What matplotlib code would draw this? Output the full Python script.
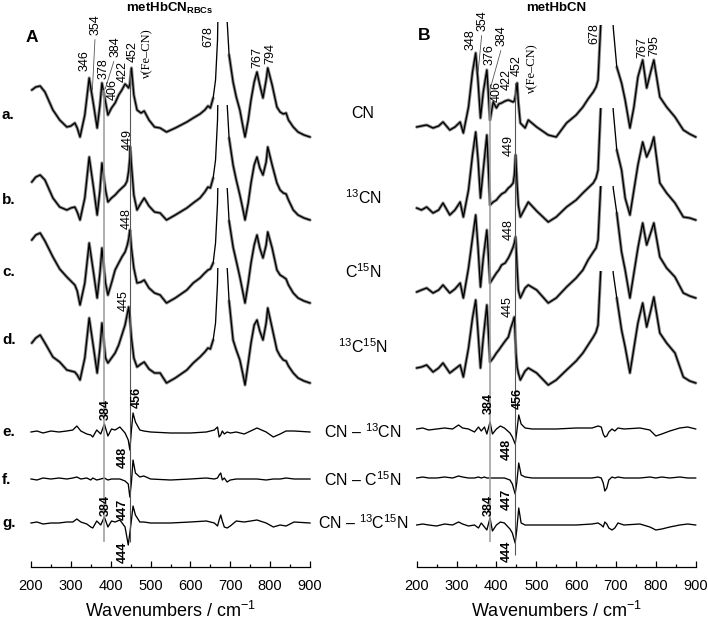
import numpy as np
import matplotlib.pyplot as plt
from matplotlib.patches import Rectangle
from matplotlib.ticker import MultipleLocator

plt.rcParams['font.family'] = ['Liberation Sans', 'DejaVu Sans']
plt.rcParams['mathtext.fontset'] = 'custom'
plt.rcParams['mathtext.rm'] = 'Liberation Sans'
plt.rcParams['mathtext.bf'] = 'Liberation Sans:bold'
plt.rcParams['mathtext.it'] = 'Liberation Sans:italic'

# ---- data (intensities, arbitrary units) ----
wn_A = [202, 212, 223, 235, 255, 272, 290, 300, 310, 316,
        323, 335, 346, 357, 366, 373, 378, 387, 393, 402,
        411, 420, 428, 436, 441, 445, 448, 449, 452, 458,
        466, 476, 484, 496, 510, 524, 540, 562, 591, 607,
        624, 636, 644, 650, 657, 663, 668, 672, 678, 686,
        692, 697, 707, 715, 724, 731, 737, 745, 752, 760,
        767, 774, 782, 790, 794, 805, 817, 825, 833, 840,
        846, 858, 870, 885, 900]
A_CN = [47, 50, 51, 45, 27, 17, 10, 11, 14, 9,
        0, 22, 59, 32, 9, 32, 54, 35, 22, 29,
        34, 42, 47, 53, 51, 49, 53, 57, 69, 42,
        27, 24, 26, 17, 10, 9, 5, 9, 15, 19,
        23, 27, 31, 29, 39, 57, 97, 197, 387, 197,
        117, 82, 55, 40, 27, 12, 0, 17, 37, 55,
        65, 52, 39, 57, 69, 52, 30, 25, 23, 24,
        17, 10, 5, 2, 0]
A_13CN = [38, 43, 45, 40, 22, 13, 10, 12, 13, 8,
          0, 22, 63, 32, 5, 30, 57, 30, 18, 22,
          25, 29, 32, 35, 39, 49, 62, 73, 55, 25,
          10, 17, 22, 14, 8, 7, 0, 5, 12, 17,
          22, 28, 33, 32, 42, 60, 100, 197, 387, 197,
          117, 82, 55, 40, 25, 12, 0, 17, 37, 55,
          63, 52, 45, 58, 73, 55, 37, 30, 27, 26,
          20, 10, 5, 2, 0]
A_C15N = [63, 68, 70, 62, 46, 34, 26, 22, 18, 12,
          -2, 20, 60, 30, 5, 30, 55, 20, 8, 20,
          33, 40, 46, 51, 57, 64, 73, 70, 55, 35,
          20, 21, 23, 15, 10, 8, 0, 5, 13, 20,
          25, 30, 33, 34, 40, 60, 100, 197, 387, 197,
          117, 82, 56, 42, 26, 12, 0, 20, 40, 58,
          68, 55, 45, 58, 71, 55, 33, 28, 26, 24,
          18, 10, 5, 2, 0]
A_13C15N = [40, 45, 48, 40, 26, 21, 13, 12, 11, 8,
            3, 25, 65, 35, 10, 35, 60, 25, 20, 25,
            30, 38, 48, 58, 68, 76, 65, 60, 45, 25,
            16, 19, 21, 14, 10, 10, 0, 5, 13, 20,
            26, 31, 35, 34, 43, 60, 100, 197, 387, 197,
            117, 82, 43, 33, 23, 10, -2, 20, 40, 58,
            63, 52, 43, 60, 75, 55, 33, 27, 23, 22,
            17, 10, 5, 2, 0]

wn_B = [200, 212, 225, 241, 255, 266, 283, 296, 309, 317,
        330, 340, 348, 354, 360, 367, 376, 384, 392, 400,
        406, 413, 422, 430, 436, 442, 445, 448, 449, 452,
        455, 460, 472, 480, 501, 530, 550, 576, 600, 617,
        630, 643, 650, 655, 662, 668, 678, 688, 693, 702,
        714, 723, 735, 745, 755, 767, 777, 787, 795, 810,
        827, 848, 869, 885, 900]
B_CN = [10, 11, 12, 9, 11, 15, 7, 10, 15, 4,
        30, 65, 84, 55, 19, 45, 67, 17, 35, 29,
        33, 34, 36, 37, 36, 35, 36, 42, 45, 54,
        35, 14, 9, 17, 10, 2, 0, 14, 22, 30,
        38, 45, 50, 57, 115, 250, 387, 200, 110, 70,
        54, 37, 9, 30, 60, 77, 49, 65, 77, 40,
        30, 20, 7, 3, 0]
B_13CN = [12, 10, 13, 7, 10, 17, 5, 10, 18, 3,
          30, 65, 88, 60, 22, 50, 85, 15, 18, 20,
          23, 26, 28, 32, 34, 37, 45, 65, 60, 35,
          15, 3, 12, 18, 9, -2, 3, 13, 20, 27,
          32, 37, 42, 50, 115, 250, 387, 200, 110, 70,
          50, 22, 5, 30, 55, 78, 63, 72, 83, 37,
          27, 17, 3, 2, 0]
B_C15N = [6, 8, 10, 5, 8, 13, 5, 9, 15, 0,
          30, 60, 83, 50, 11, 40, 68, 15, 20, 25,
          28, 33, 35, 40, 45, 51, 55, 61, 55, 30,
          8, 0, 10, 13, 8, -5, 0, 11, 20, 28,
          38, 46, 50, 58, 115, 250, 387, 200, 110, 85,
          46, 28, 0, 25, 50, 75, 53, 65, 75, 41,
          30, 21, 5, 2, 0]
B_13C15N = [15, 16, 18, 11, 15, 20, 10, 14, 18, 6,
            35, 65, 83, 50, 15, 45, 78, 21, 25, 30,
            33, 37, 42, 46, 55, 62, 66, 40, 30, 16,
            10, 3, 12, 15, 10, -2, 3, 13, 22, 30,
            38, 46, 51, 58, 115, 250, 387, 200, 110, 85,
            53, 36, 10, 35, 60, 80, 56, 72, 86, 50,
            40, 30, 6, 2, 0]

# difference spectra
wn_A_diff = [200, 215, 230, 250, 270, 290, 305, 315, 325, 340,
             350, 355, 365, 375, 384, 393, 402, 411, 423, 436,
             444, 448, 452, 456, 462, 473, 483, 500, 550, 600,
             640, 660, 668, 672, 676, 680, 685, 692, 700, 715,
             735, 767, 790, 808, 825, 840, 860, 900]
A_diff_13CN = [0, 1, -1, 1, 0, 1, 2, 6, 1, -2,
               -3, -5, 2, -2, 8, -4, 3, 2, 5, -1,
               -8, -18, 2, 19, 10, 2, 1, 0, -1, -1,
               0, 2, 5, -5, -3, 1, -2, 0, -1, 0,
               -2, 4, 0, -5, -2, 1, 1, 0]
A_diff_C15N = [0, -1, 1, 0, 1, 0, 1, 2, 0, 1,
               -1, 1, -1, 0, 1, -1, 0, 0, 0, -2,
               -5, -18, -3, 19, 6, 2, 3, 0, -1, 0,
               1, 0, 1, 4, 6, -1, 1, -3, -1, 0,
               0, 0, -1, 0, 0, 1, 0, 0]
A_diff_13C15N = [0, 1, -1, 0, 0, 1, 1, 4, 1, -1,
                 -4, -5, 2, -2, 6, -4, 2, 1, 3, -4,
                 -22, -10, 3, 17, 8, 1, 1, 0, 0, 1,
                 2, 0, -3, 3, 8, 2, -4, -5, -3, 2,
                 1, 3, 0, -4, -2, -3, 1, 0]

wn_B_diff = [200, 215, 230, 250, 270, 290, 305, 315, 330, 345,
             355, 362, 370, 376, 384, 390, 400, 410, 420, 434,
             440, 447, 451, 456, 462, 472, 490, 550, 600, 640,
             655, 663, 668, 672, 677, 682, 690, 697, 705, 720,
             760, 785, 800, 815, 835, 860, 880, 900]
B_diff_13CN = [0, 1, -1, 0, 1, 0, 4, 1, 0, -3,
               2, -2, 2, -5, 7, -5, 0, 3, 1, -4,
               -8, -15, -3, 14, 5, 1, 0, 0, 1, 1,
               3, 2, -5, -8, -7, -3, 0, -2, 1, 0,
               1, -1, -7, -5, -2, 1, 2, 0]
B_diff_C15N = [0, 1, 0, 0, 1, 0, 2, 1, 0, 0,
               1, 0, 1, 0, 0, 0, 0, 0, 0, -2,
               -6, -16, -5, 15, 3, 1, 0, 0, 0, 0,
               1, 0, -5, -13, -10, -2, 1, 0, 1, 0,
               0, 1, 0, 1, 0, 1, 0, 0]
B_diff_13C15N = [0, 1, 0, -1, 1, 0, 3, 1, -1, 0,
                 -3, 2, -2, -5, 7, -6, 0, 3, 2, -4,
                 -8, -18, -5, 17, 2, 0, 0, 0, 0, 1,
                 2, 0, -2, 3, 1, -3, -5, -3, 2, 0,
                 1, -2, -5, -4, -2, 0, 1, 0]

row_labels = ['a.', 'b.', 'c.', 'd.', 'e.', 'f.', 'g.']
iso_labels = ['CN', r'$\mathregular{^{13}}$CN', r'C$\mathregular{^{15}}$N',
              r'$\mathregular{^{13}}$C$\mathregular{^{15}}$N',
              r'CN – $\mathregular{^{13}}$CN', r'CN – C$\mathregular{^{15}}$N',
              r'CN – $\mathregular{^{13}}$C$\mathregular{^{15}}$N']

# ---- layout (pixels of a 708x619 canvas) ----
W, H = 708, 619
AX_H = 567


def make_axes(left_px):
    ax = fig.add_axes([left_px / W, (H - AX_H) / H, 279 / W, AX_H / H])
    ax.set_xlim(200, 900)
    ax.set_ylim(0, AX_H)
    for s in ['left', 'right', 'top']:
        ax.spines[s].set_visible(False)
    ax.spines['bottom'].set_linewidth(0.9)
    ax.set_yticks([])
    ax.xaxis.set_major_locator(MultipleLocator(100))
    ax.xaxis.set_minor_locator(MultipleLocator(50))
    ax.tick_params(axis='x', which='major', direction='in', length=4.5, width=0.9,
                   labelsize=10.5, pad=9)
    ax.tick_params(axis='x', which='minor', direction='in', length=2.3, width=0.9)
    ax.set_xlabel(r'Wavenumbers / cm$\mathregular{^{-1}}$', fontsize=13, labelpad=5)
    return ax


def spectrum(ax, x, y, base, clip, band=True):
    x = np.asarray(x, float)
    yy = base + np.asarray(y, float)
    rect = Rectangle((100, -50), 900, base + clip + 50, transform=ax.transData)
    if band:
        yb = np.where((x > 662) & (x < 697), np.nan, yy)
        l1, = ax.plot(x, yb, color='#8c8c8c', lw=2.3, solid_capstyle='round')
        l1.set_clip_path(rect)
    l2, = ax.plot(x, yy, color='black', lw=0.95)
    l2.set_clip_path(rect)


def rlabel(ax, x, h, s, bold=False, size=9, **kw):
    ax.text(x, h, s, rotation=90, ha='center', va='center', fontsize=size,
            fontweight='bold' if bold else 'normal', **kw)


def leader(ax, s, xy, xytext):
    ax.annotate(s, xy=xy, xytext=xytext, rotation=90, ha='center', va='center',
                fontsize=9,
                arrowprops=dict(arrowstyle='-', lw=0.6, color='#555555',
                                relpos=(0.5, 0), shrinkA=1, shrinkB=0))


fig = plt.figure(figsize=(W / 100, H / 100), dpi=100)
axA = make_axes(31)
axB = make_axes(416.7)

# panel A
for y, base in zip([A_CN, A_13CN, A_C15N, A_13C15N], [430, 347, 264, 184]):
    spectrum(axA, wn_A, y, base, 115)
for y, base in zip([A_diff_13CN, A_diff_C15N, A_diff_13C15N], [135, 88, 44]):
    spectrum(axA, wn_A_diff, y, base, 500, band=False)
axA.vlines([384], 25, 477, color='#9a9a9a', lw=1.1)
axA.vlines([449], 25, 495, color='#555555', lw=0.8)

for s, x, h in [('346', 335, 506), ('378', 381, 498), ('406', 406, 478),
                ('422', 431, 496), ('452', 456, 515), ('678', 644, 530),
                ('767', 767, 510), ('794', 800, 513), ('449', 443, 428),
                ('448', 441, 348), ('445', 433, 266)]:
    rlabel(axA, x, h, s)
leader(axA, '354', (354, 477), (361, 542))
leader(axA, '384', (386, 478), (411, 520))
rlabel(axA, 491, 514, 'ν(Fe–CN)', family='Liberation Serif')
for s, x, h in [('384', 388, 157), ('456', 466, 170), ('448', 431, 110),
                ('447', 431, 58), ('384', 388, 62), ('444', 431, 15)]:
    rlabel(axA, x, h, s, bold=True)

# panel B
for y, base in zip([B_CN, B_13CN, B_C15N, B_13C15N], [430, 347, 269, 184]):
    spectrum(axB, wn_B, y, base, 112)
for y, base in zip([B_diff_13CN, B_diff_C15N, B_diff_13C15N], [138, 89, 42]):
    spectrum(axB, wn_B_diff, y, base, 500, band=False)
axB.vlines([384], 25, 479, color='#9a9a9a', lw=1.1)
axB.vlines([447], 12, 484, color='#555555', lw=0.8)

for s, x, h in [('348', 334, 527), ('376', 384, 512), ('406', 401, 475),
                ('422', 426, 487), ('452', 451, 501), ('678', 647, 533),
                ('767', 765, 520), ('795', 795, 521), ('449', 432, 421),
                ('448', 432, 337), ('445', 429, 260)]:
    rlabel(axB, x, h, s)
leader(axB, '354', (354, 495), (364, 546))
leader(axB, '384', (385, 479), (414, 531))
rlabel(axB, 489, 499, 'ν(Fe–CN)', family='Liberation Serif')
for s, x, h in [('384', 381, 164), ('456', 454, 169), ('448', 427, 118),
                ('447', 427, 68), ('384', 381, 61), ('444', 427, 16)]:
    rlabel(axB, x, h, s, bold=True)


def ftext(xp, yp, s, **kw):
    fig.text(xp / W, 1 - yp / H, s, **kw)


for s, yp in zip(row_labels, [115, 200, 272, 340, 432, 480, 523]):
    ftext(2, yp, s, ha='left', va='center', fontsize=11, fontweight='bold')
for s, yp in zip(iso_labels, [113, 198, 272, 347, 432, 480, 523]):
    ftext(363, yp, s, ha='center', va='center', fontsize=11.5)

ftext(32, 38, 'A', ha='center', va='center', fontsize=12.5, fontweight='bold')
ftext(424, 36, 'B', ha='center', va='center', fontsize=12.5, fontweight='bold')
ftext(170, 8, r'metHbCN$_{\mathbf{RBCs}}$', ha='center', va='center', fontsize=9.5,
      fontweight='bold')
ftext(556, 8, 'metHbCN', ha='center', va='center', fontsize=9.5, fontweight='bold')

fig.savefig('out.png', dpi=100)
